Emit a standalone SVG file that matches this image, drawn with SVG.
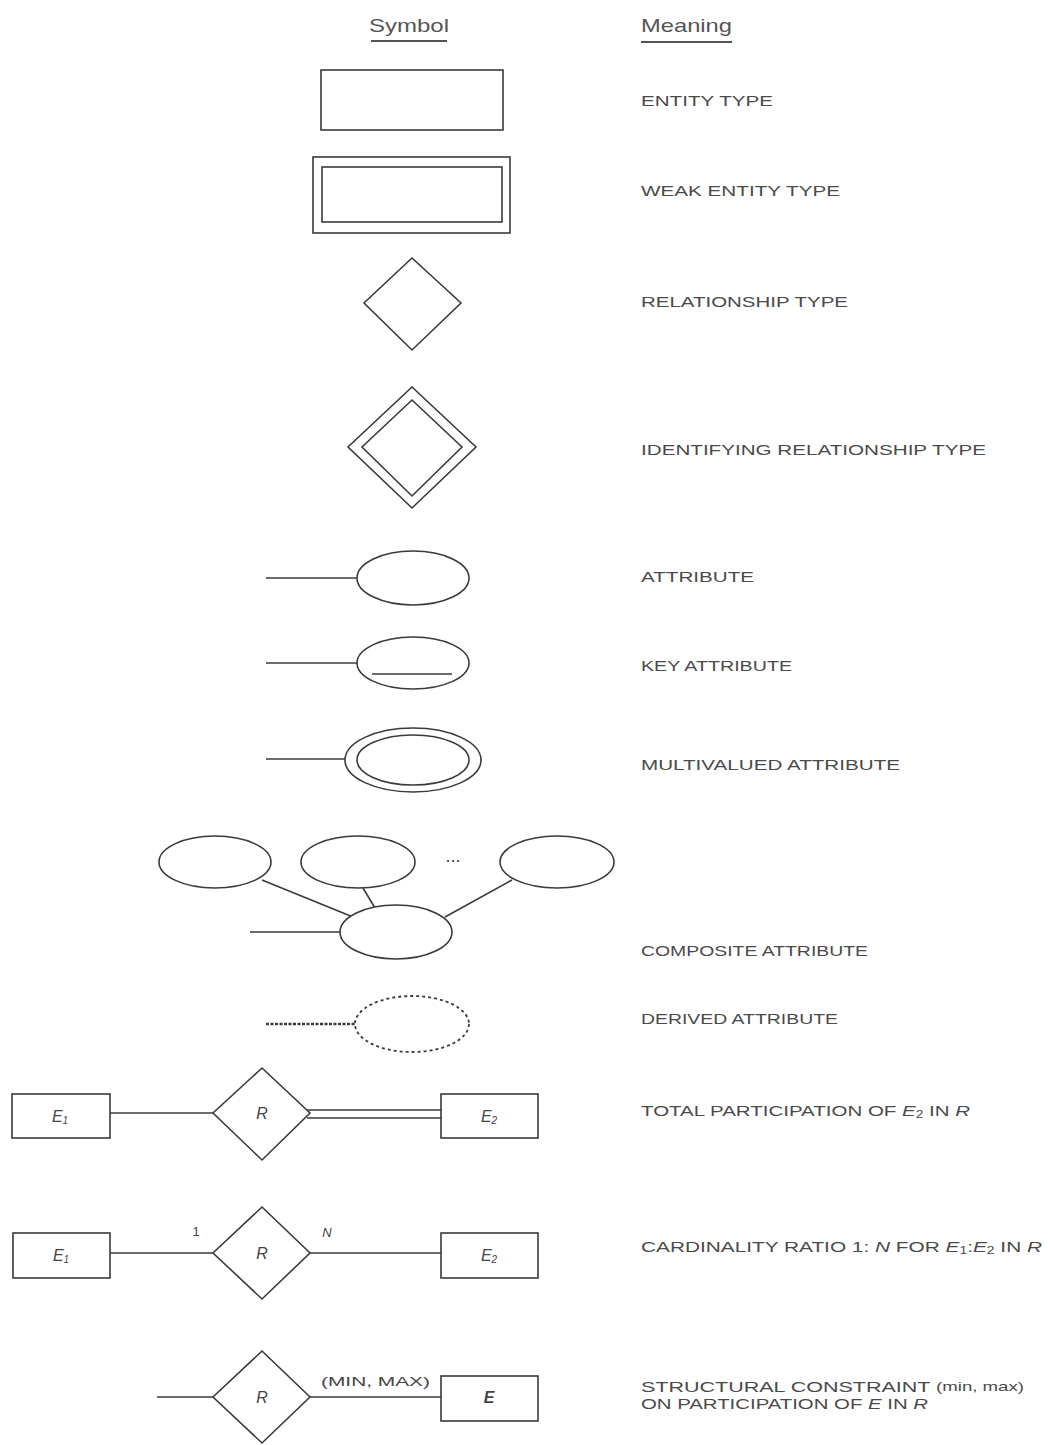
<svg xmlns="http://www.w3.org/2000/svg" width="1048" height="1445" viewBox="0 0 1048 1445">
<style>
.s{fill:#fff;stroke:#3a3a3a;stroke-width:1.6}
.l{fill:none;stroke:#3a3a3a;stroke-width:1.6}
.m{font-family:"Liberation Sans",Arial,sans-serif;font-size:15px;fill:#4a4a4a;dominant-baseline:central}
.h{font-family:"Liberation Sans",Arial,sans-serif;font-size:19px;fill:#555}
.lab{font-family:"Liberation Sans",Arial,sans-serif;font-size:16px;fill:#444;font-style:italic;text-anchor:middle;dominant-baseline:central}
.sm{font-family:"Liberation Sans",Arial,sans-serif;font-size:13px;fill:#444}
</style>
<rect width="1048" height="1445" fill="#fff"/>
<g id="headers">
<text class="h" x="369" y="32" textLength="80" lengthAdjust="spacingAndGlyphs">Symbol</text>
<line x1="371" y1="41" x2="447" y2="41" stroke="#555" stroke-width="2"/>
<text class="h" x="641" y="32" textLength="91" lengthAdjust="spacingAndGlyphs">Meaning</text>
<line x1="641" y1="42" x2="732" y2="42" stroke="#555" stroke-width="2"/>
</g>
<g id="entity">
<rect class="s" x="321" y="70" width="182" height="60"/>
</g>
<g id="weak-entity">
<rect class="s" x="313" y="157" width="197" height="76"/>
<rect class="s" x="322" y="167" width="180" height="55"/>
</g>
<g id="relationship">
<polygon class="s" points="412,258 461,303 412,350 364,303"/>
</g>
<g id="identifying-relationship">
<polygon class="s" points="412,387 476,447 412,508 348,447"/>
<polygon class="s" points="412,400 462,447 412,496 362,447"/>
</g>
<g id="attribute">
<ellipse class="s" cx="413" cy="578" rx="56" ry="27"/>
</g>
<g id="key-attribute">
<ellipse class="s" cx="413" cy="663" rx="56" ry="26"/>
<line class="l" x1="372" y1="674" x2="452" y2="674"/>
</g>
<g id="multivalued-attribute">
<ellipse class="s" cx="413" cy="760" rx="68" ry="32"/>
<ellipse class="s" cx="413" cy="760" rx="56" ry="25"/>
</g>
<g id="composite-parts">
<ellipse class="s" cx="215" cy="862" rx="56" ry="26"/>
<ellipse class="s" cx="358" cy="862" rx="57" ry="26"/>
<ellipse class="s" cx="557" cy="862" rx="57" ry="26"/>
<text x="453" y="862" text-anchor="middle" font-family="Liberation Sans, Arial, sans-serif" font-size="18" fill="#444">...</text>
</g>
<g id="derived-attribute">
<ellipse cx="412" cy="1024" rx="57" ry="28" fill="#fff" stroke="#3a3a3a" stroke-width="1.8" stroke-dasharray="3,3"/>
</g>
<g id="total-E1">
<rect class="s" x="12" y="1094" width="98" height="44"/>
<text class="lab" x="60" y="1116">E<tspan font-size="10" dy="4">1</tspan></text>
</g>
<g id="total-R">
<polygon class="s" points="262,1068 310,1113 262,1160 213,1113"/>
<text class="lab" x="262" y="1113">R</text>
</g>
<g id="total-E2">
<rect class="s" x="441" y="1094" width="97" height="44"/>
<text class="lab" x="489" y="1116">E<tspan font-size="10" dy="4">2</tspan></text>
</g>
<g id="card-E1">
<rect class="s" x="13" y="1233" width="97" height="45"/>
<text class="lab" x="61" y="1255">E<tspan font-size="10" dy="4">1</tspan></text>
</g>
<g id="card-R">
<polygon class="s" points="262,1207 310,1253 262,1299 213,1253"/>
<text class="lab" x="262" y="1253">R</text>
</g>
<g id="card-E2">
<rect class="s" x="441" y="1233" width="97" height="45"/>
<text class="lab" x="489" y="1255">E<tspan font-size="10" dy="4">2</tspan></text>
</g>
<g id="struct-R">
<polygon class="s" points="262,1351 310,1397 262,1443 213,1397"/>
<text class="lab" x="262" y="1397">R</text>
</g>
<g id="struct-E">
<rect class="s" x="441" y="1376" width="97" height="45"/>
<text class="lab" x="489" y="1397" font-weight="bold">E</text>
</g>
<g id="connectors">
<line class="l" x1="266" y1="578" x2="357" y2="578"/>
<line class="l" x1="266" y1="663" x2="357" y2="663"/>
<line class="l" x1="266" y1="759" x2="345" y2="759"/>
<line class="l" x1="250" y1="932" x2="340" y2="932"/>
<line class="l" x1="262" y1="880" x2="353" y2="917"/>
<line class="l" x1="363" y1="888" x2="375" y2="908"/>
<line class="l" x1="512" y1="880" x2="445" y2="917"/>
<line x1="266" y1="1024" x2="355" y2="1024" stroke="#3a3a3a" stroke-width="2.5" stroke-dasharray="3,1.5"/>
<line class="l" x1="110" y1="1113" x2="213" y2="1113"/>
<line class="l" x1="307" y1="1110" x2="441" y2="1110"/>
<line class="l" x1="307" y1="1118" x2="441" y2="1118"/>
<line class="l" x1="110" y1="1253" x2="213" y2="1253"/>
<line class="l" x1="310" y1="1253" x2="441" y2="1253"/>
<text class="sm" x="196" y="1236" text-anchor="middle">1</text>
<text class="sm" x="327" y="1237" text-anchor="middle" font-style="italic">N</text>
<line class="l" x1="157" y1="1397" x2="213" y2="1397"/>
<line class="l" x1="310" y1="1397" x2="441" y2="1397"/>
<text class="sm" x="321" y="1386" textLength="109" lengthAdjust="spacingAndGlyphs">(MIN, MAX)</text>
</g>
<g id="composite-root">
<ellipse class="s" cx="396" cy="932" rx="56" ry="27"/>
</g>
<g id="meanings">
<text class="m" x="641" y="100" textLength="132" lengthAdjust="spacingAndGlyphs">ENTITY TYPE</text>
<text class="m" x="641" y="190" textLength="199" lengthAdjust="spacingAndGlyphs">WEAK ENTITY TYPE</text>
<text class="m" x="641" y="301" textLength="207" lengthAdjust="spacingAndGlyphs">RELATIONSHIP TYPE</text>
<text class="m" x="641" y="449" textLength="345" lengthAdjust="spacingAndGlyphs">IDENTIFYING RELATIONSHIP TYPE</text>
<text class="m" x="641" y="576" textLength="113" lengthAdjust="spacingAndGlyphs">ATTRIBUTE</text>
<text class="m" x="641" y="665" textLength="151" lengthAdjust="spacingAndGlyphs">KEY ATTRIBUTE</text>
<text class="m" x="641" y="764" textLength="259" lengthAdjust="spacingAndGlyphs">MULTIVALUED ATTRIBUTE</text>
<text class="m" x="641" y="950" textLength="227" lengthAdjust="spacingAndGlyphs">COMPOSITE ATTRIBUTE</text>
<text class="m" x="641" y="1018" textLength="197" lengthAdjust="spacingAndGlyphs">DERIVED ATTRIBUTE</text>
<text class="m" x="641" y="1110" textLength="329" lengthAdjust="spacingAndGlyphs">TOTAL PARTICIPATION OF <tspan font-style="italic">E</tspan><tspan font-size="10" dy="4">2</tspan><tspan dy="-4"> IN  </tspan><tspan font-style="italic">R</tspan></text>
<text class="m" x="641" y="1246" textLength="401" lengthAdjust="spacingAndGlyphs">CARDINALITY RATIO 1: <tspan font-style="italic">N</tspan> FOR <tspan font-style="italic">E</tspan><tspan font-size="10" dy="4">1</tspan><tspan dy="-4">:</tspan><tspan font-style="italic">E</tspan><tspan font-size="10" dy="4">2</tspan><tspan dy="-4"> IN </tspan><tspan font-style="italic">R</tspan></text>
<text class="m" x="641" y="1386" textLength="383" lengthAdjust="spacingAndGlyphs">STRUCTURAL CONSTRAINT <tspan font-size="13">(min, max)</tspan></text>
<text class="m" x="641" y="1403" textLength="287" lengthAdjust="spacingAndGlyphs">ON PARTICIPATION OF <tspan font-style="italic">E</tspan> IN <tspan font-style="italic">R</tspan></text>
</g>
</svg>
